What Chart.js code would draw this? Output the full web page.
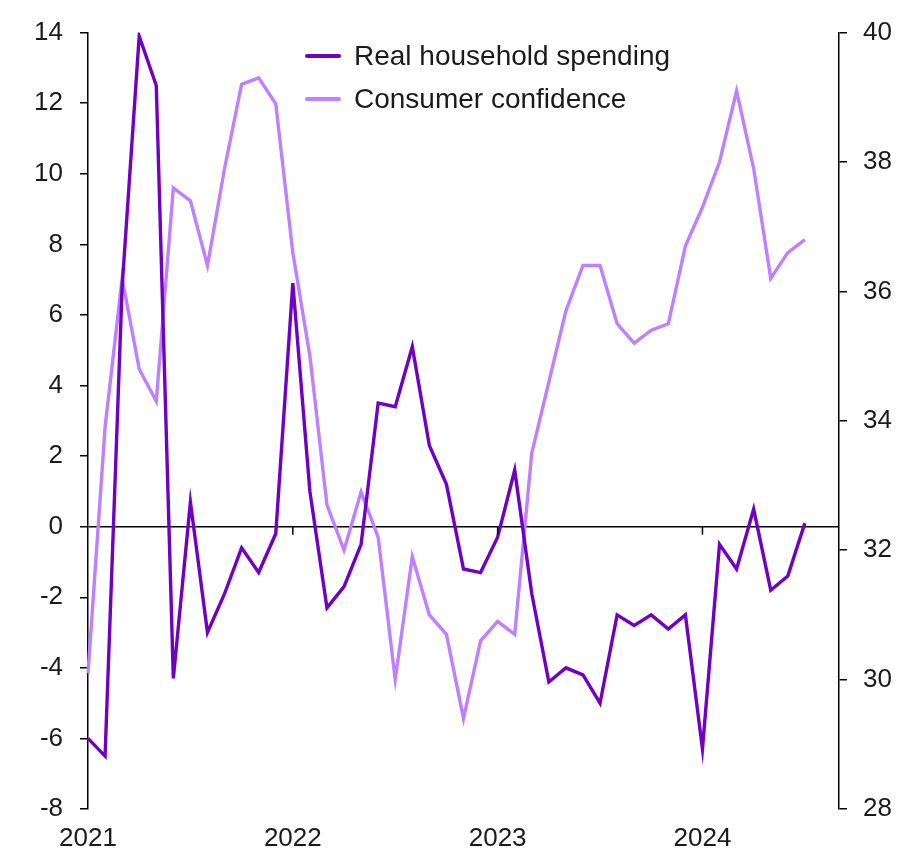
<!DOCTYPE html>
<html>
<head>
<meta charset="utf-8">
<script src="https://cdn.jsdelivr.net/npm/chart.js@4"></script>
<style>
  body { margin: 0; background: #fff; }
  #wrap { position: relative; width: 902px; height: 849px; }
  #legend {
    position: absolute;
    left: 305px;
    top: 35px;
    font-family: "Liberation Sans", Arial, sans-serif;
    font-size: 28px;
    color: #1a1a1a;
  }
  .row { display: flex; align-items: center; height: 42.7px; }
  .swatch { width: 36px; height: 4px; border-radius: 2px; margin-right: 13px; }
</style>
</head>
<body>
<div id="wrap">
  <canvas id="chart" width="902" height="849"></canvas>
  <div id="legend"></div>
</div>
<script>
const months = [
  "2021-01", "2021-02", "2021-03", "2021-04", "2021-05", "2021-06",
  "2021-07", "2021-08", "2021-09", "2021-10", "2021-11", "2021-12",
  "2022-01", "2022-02", "2022-03", "2022-04", "2022-05", "2022-06",
  "2022-07", "2022-08", "2022-09", "2022-10", "2022-11", "2022-12",
  "2023-01", "2023-02", "2023-03", "2023-04", "2023-05", "2023-06",
  "2023-07", "2023-08", "2023-09", "2023-10", "2023-11", "2023-12",
  "2024-01", "2024-02", "2024-03", "2024-04", "2024-05", "2024-06",
  "2024-07", "2024-08", "2024-09",
];

// left axis, % y/y
const spending = [
  -6.0, -6.5, 6.8, 13.9, 12.5, -4.3, 0.7, -3.0, -1.9, -0.6, -1.3, -0.2,
  6.9, 1.0, -2.3, -1.7, -0.5, 3.5, 3.4, 5.1, 2.3, 1.2, -1.2, -1.3,
  -0.3, 1.6, -1.9, -4.4, -4.0, -4.2, -5.0, -2.5, -2.8, -2.5, -2.9, -2.5,
  -6.3, -0.5, -1.2, 0.5, -1.8, -1.4, 0.1,
];

// right axis, index
const confidence = [
  30.1, 33.9, 36.2, 34.8, 34.3, 37.6, 37.4, 36.4, 37.9, 39.2, 39.3, 38.9,
  36.6, 35.0, 32.7, 32.0, 32.9, 32.2, 30.0, 31.9, 31.0, 30.7, 29.4, 30.6,
  30.9, 30.7, 33.5, 34.6, 35.7, 36.4, 36.4, 35.5, 35.2, 35.4, 35.5, 36.7,
  37.3, 38.0, 39.1, 37.9, 36.2, 36.6, 36.8,
];

const seriesNames = ["Real household spending", "Consumer confidence"];
const seriesColors = ["#7000C4", "#BF80FF"];
const leftRange = [-8, 14];
const rightRange = [28, 40];

const FONT = "'Liberation Sans', Arial, sans-serif";
const INK = "#1a1a1a";

// tick marks on the zero line at each January
const zeroTicks = {
  id: "zeroTicks",
  afterDraw(chart) {
    const { ctx, scales } = chart;
    const y0 = scales.y.getPixelForValue(0);
    ctx.save();
    ctx.strokeStyle = "#000";
    ctx.lineWidth = 1.5;
    months.forEach((m, i) => {
      if (!m.endsWith("-01") || i === 0) return;
      const x = scales.x.getPixelForValue(i);
      ctx.beginPath();
      ctx.moveTo(x, y0);
      ctx.lineTo(x, y0 + 8);
      ctx.stroke();
    });
    ctx.restore();
  },
};

new Chart(document.getElementById("chart"), {
  type: "line",
  data: {
    labels: months,
    datasets: [
      {
        label: seriesNames[0],
        data: spending,
        yAxisID: "y",
        borderColor: seriesColors[0],
        borderWidth: 3.4,
        pointRadius: 0,
        tension: 0,
      },
      {
        label: seriesNames[1],
        data: confidence,
        yAxisID: "y1",
        borderColor: seriesColors[1],
        borderWidth: 3.4,
        pointRadius: 0,
        tension: 0,
      },
    ],
  },
  options: {
    responsive: false,
    animation: false,
    layout: { padding: { top: 22, right: 0, bottom: 0, left: 0 } },
    plugins: {
      legend: { display: false },
      tooltip: { enabled: false },
    },
    scales: {
      x: {
        type: "category",
        offset: false,
        grid: { display: false },
        border: { display: false },
        ticks: {
          autoSkip: false,
          maxRotation: 0,
          padding: 6,
          color: INK,
          font: { family: FONT, size: 26 },
          callback(value) {
            const m = this.getLabelForValue(value);
            return m.endsWith("-01") ? m.slice(0, 4) : "";
          },
        },
        afterFit(scale) {
          scale.height = 40;
        },
      },
      y: {
        position: "left",
        min: leftRange[0],
        max: leftRange[1],
        border: { display: true, color: "#000", width: 1.5 },
        grid: {
          drawOnChartArea: true,
          color: (c) => (c.tick && c.tick.value === 0 ? "#000" : "rgba(0,0,0,0)"),
          tickColor: "#000",
          lineWidth: 1.5,
          tickLength: 8,
        },
        ticks: {
          stepSize: 2,
          padding: 17,
          color: INK,
          font: { family: FONT, size: 26 },
        },
        afterFit(scale) {
          scale.width = 88;
        },
      },
      y1: {
        position: "right",
        min: rightRange[0],
        max: rightRange[1],
        border: { display: true, color: "#000", width: 1.5 },
        grid: {
          drawOnChartArea: false,
          tickColor: "#000",
          lineWidth: 1.5,
          tickLength: 8,
        },
        ticks: {
          stepSize: 2,
          padding: 16,
          color: INK,
          font: { family: FONT, size: 26 },
        },
        afterFit(scale) {
          scale.width = 63;
        },
      },
    },
  },
  plugins: [zeroTicks],
});

document.getElementById("legend").innerHTML = seriesNames
  .map(
    (name, i) => `
    <div class="row">
      <span class="swatch" style="background:${seriesColors[i]}"></span>
      <span>${name}</span>
    </div>
  `,
  )
  .join("");
</script>
</body>
</html>
